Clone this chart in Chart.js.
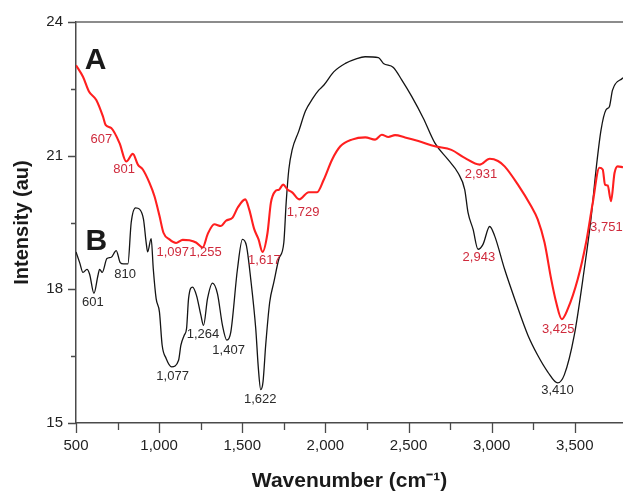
<!DOCTYPE html>
<html>
<head>
<meta charset="utf-8">
<script src="https://cdn.jsdelivr.net/npm/chart.js@4.4.1/dist/chart.umd.min.js"></script>
<style>
  html, body { margin: 0; padding: 0; background: #fff; }
  #wrap { width: 623px; height: 491px; }
</style>
</head>
<body>
<div id="wrap"><canvas id="chart"></canvas></div>
<script>
// ---- spectrum A (red) ----
const waveA = [500, 542, 578, 622, 662, 678, 712, 762, 802, 842, 872, 902, 942, 972, 1002, 1026, 1062, 1102, 1142, 1182,
  1222, 1262, 1292, 1332, 1372, 1402, 1442, 1472, 1518, 1542, 1572, 1598, 1622, 1652, 1672, 1698, 1722, 1746, 1772, 1802,
  1842, 1900, 1950, 1990, 2040, 2090, 2159, 2240, 2299, 2339, 2379, 2419, 2479, 2559, 2659, 2758, 2838, 2928, 2988, 3038,
  3078, 3158, 3237, 3277, 3318, 3358, 3388, 3422, 3458, 3518, 3568, 3608, 3648, 3668, 3682, 3698, 3718, 3739, 3758, 3790];
const intenA = [23.03, 22.77, 22.44, 22.25, 21.88, 21.69, 21.62, 21.28, 20.87, 21.04, 20.80, 20.69, 20.39, 20.09, 19.65, 19.27, 19.12, 19.04, 19.11, 19.10,
  19.05, 18.94, 19.24, 19.46, 19.42, 19.54, 19.61, 19.83, 20.02, 19.79, 19.35, 19.12, 18.84, 19.27, 19.94, 20.20, 20.24, 20.35, 20.24, 20.17,
  20.02, 20.18, 20.18, 20.46, 20.91, 21.21, 21.36, 21.41, 21.36, 21.47, 21.42, 21.46, 21.41, 21.33, 21.21, 21.13, 20.95, 20.80, 20.93, 20.88,
  20.76, 20.35, 19.87, 19.57, 19.05, 18.23, 17.71, 17.33, 17.56, 18.23, 19.05, 19.94, 20.73, 20.69, 20.35, 20.33, 19.98, 20.61, 20.76, 20.74];

// ---- spectrum B (black) ----
const waveB = [500, 522, 542, 566, 582, 608, 632, 642, 658, 686, 712, 742, 766, 786, 812, 832, 858, 882, 906, 922,
  931, 952, 965, 982, 1002, 1018, 1042, 1075, 1117, 1131, 1151, 1165, 1177, 1201, 1225, 1251, 1267, 1291, 1321, 1351,
  1381, 1407, 1431, 1471, 1501, 1525, 1551, 1581, 1597, 1611, 1625, 1641, 1665, 1690, 1720, 1750, 1764, 1780, 1800, 1840,
  1880, 1925, 1960, 1990, 2050, 2120, 2189, 2239, 2319, 2349, 2409, 2459, 2519, 2589, 2659, 2738, 2798, 2838, 2858, 2888,
  2918, 2948, 2988, 3018, 3078, 3138, 3218, 3277, 3337, 3397, 3437, 3497, 3557, 3597, 3628, 3658, 3688, 3708, 3727, 3790];
const intenB = [18.84, 18.60, 18.38, 18.45, 18.34, 17.91, 18.31, 18.45, 18.38, 18.69, 18.72, 18.87, 18.60, 18.57, 18.57, 19.50, 19.83, 19.80, 19.57, 19.05,
  18.84, 19.14, 18.45, 17.79, 17.49, 16.75, 16.45, 16.26, 16.41, 16.75, 16.97, 17.12, 17.79, 18.05, 17.86, 17.42, 17.19, 17.79, 18.14, 17.90,
  17.19, 16.86, 17.04, 18.45, 19.12, 18.98, 18.23, 17.12, 16.22, 15.75, 15.93, 16.75, 17.71, 18.16, 18.68, 19.05, 19.94, 20.69, 21.13, 21.55,
  22.00, 22.29, 22.47, 22.58, 22.88, 23.07, 23.18, 23.22, 23.20, 23.07, 22.98, 22.70, 22.33, 21.84, 21.28, 20.91, 20.61, 20.24, 19.72, 19.35,
  18.90, 19.01, 19.41, 19.20, 18.45, 17.79, 16.97, 16.52, 16.15, 15.90, 16.08, 16.97, 18.45, 19.57, 20.69, 21.58, 22.03, 22.10, 22.47, 22.75];

// ---- peak labels (text, wavenumber, intensity where the label sits) ----
const peakTextA = ["607", "801", "1,097", "1,255", "1,617", "1,729", "2,931", "2,943", "3,425", "3,751"];
const peakXA    = [652, 790, 1082, 1279, 1633, 1866, 2936, 2923, 3400, 3690];
const peakYA    = [21.36, 20.69, 18.83, 18.83, 18.65, 19.72, 20.59, 18.72, 17.11, 19.40];

const peakTextB = ["601", "810", "1,077", "1,264", "1,407", "1,622", "3,410"];
const peakXB    = [602, 795, 1081, 1264, 1418, 1608, 3396];
const peakYB    = [17.71, 18.34, 16.05, 16.98, 16.63, 15.53, 15.74];

// series letters
const seriesNames = ["A", "B"];
const seriesNameX = [618, 622];
const seriesNameY = [23.16, 19.08];

// axes
const xMin = 500, xMax = 3790;
const yMin = 15, yMax = 24;
const xMajor = [500, 1000, 1500, 2000, 2500, 3000, 3500];
const xMinor = [750, 1250, 1750, 2250, 2750, 3250];
const yMajor = [15, 18, 21, 24];
const yMinor = [16.5, 19.5, 22.5];

const FONT = "'Liberation Sans', Arial, Helvetica, sans-serif";
const AXIS_COLOR = "#4a4a4a";

const toPoints = (xs, ys) => xs.map((x, i) => ({ x: x, y: ys[i] }));

// tick marks, top frame line, peak labels
const decorPlugin = {
  id: "decor",
  afterDatasetsDraw(chart) {
    const ctx = chart.ctx;
    const xs = chart.scales.x;
    const ys = chart.scales.y;
    const area = chart.chartArea;

    ctx.save();
    ctx.strokeStyle = AXIS_COLOR;
    ctx.lineWidth = 1.3;
    ctx.beginPath();
    xMajor.forEach(v => {
      const px = Math.round(xs.getPixelForValue(v)) + 0.5;
      ctx.moveTo(px, area.bottom); ctx.lineTo(px, area.bottom + 10);
    });
    xMinor.forEach(v => {
      const px = Math.round(xs.getPixelForValue(v)) + 0.5;
      ctx.moveTo(px, area.bottom); ctx.lineTo(px, area.bottom + 7);
    });
    yMajor.forEach(v => {
      const py = Math.round(ys.getPixelForValue(v)) + 0.5;
      ctx.moveTo(area.left, py); ctx.lineTo(area.left - 8, py);
    });
    yMinor.forEach(v => {
      const py = Math.round(ys.getPixelForValue(v)) + 0.5;
      ctx.moveTo(area.left, py); ctx.lineTo(area.left - 5, py);
    });
    ctx.stroke();

    // top frame line
    ctx.strokeStyle = "#666";
    ctx.lineWidth = 1.6;
    ctx.beginPath();
    ctx.moveTo(area.left, area.top);
    ctx.lineTo(area.right, area.top);
    ctx.stroke();

    // peak labels
    ctx.textAlign = "center";
    ctx.textBaseline = "middle";
    ctx.font = "13px " + FONT;
    ctx.fillStyle = "#cf2a3c";
    peakTextA.forEach((t, i) => {
      ctx.fillText(t, xs.getPixelForValue(peakXA[i]), ys.getPixelForValue(peakYA[i]));
    });
    ctx.fillStyle = "#2a2a2a";
    peakTextB.forEach((t, i) => {
      ctx.fillText(t, xs.getPixelForValue(peakXB[i]), ys.getPixelForValue(peakYB[i]));
    });

    // series letters
    ctx.font = "bold 30px " + FONT;
    ctx.fillStyle = "#1a1a1a";
    seriesNames.forEach((t, i) => {
      ctx.fillText(t, xs.getPixelForValue(seriesNameX[i]), ys.getPixelForValue(seriesNameY[i]) + 1);
    });
    ctx.restore();
  }
};

new Chart(document.getElementById("chart"), {
  type: "line",
  data: {
    datasets: [
      {
        label: "A",
        data: toPoints(waveA, intenA),
        borderColor: "#ff1f1f",
        borderWidth: 2.1,
        pointRadius: 0,
        cubicInterpolationMode: "monotone"
      },
      {
        label: "B",
        data: toPoints(waveB, intenB),
        borderColor: "#141414",
        borderWidth: 1.3,
        pointRadius: 0,
        cubicInterpolationMode: "monotone"
      }
    ]
  },
  options: {
    responsive: true,
    maintainAspectRatio: false,
    animation: false,
    layout: { padding: { top: 18, right: 0, left: 0, bottom: 0 } },
    plugins: {
      legend: { display: false },
      tooltip: { enabled: false }
    },
    scales: {
      x: {
        type: "linear",
        min: xMin,
        max: xMax,
        grid: { display: false, drawTicks: false },
        border: { display: true, color: AXIS_COLOR, width: 1.5 },
        afterBuildTicks: s => { s.ticks = xMajor.map(v => ({ value: v })); },
        ticks: {
          padding: 14,
          color: "#222",
          font: { family: FONT, size: 15 },
          maxRotation: 0,
          autoSkip: false,
          callback: v => v.toLocaleString("en-US")
        },
        title: {
          display: true,
          text: "Wavenumber (cm\u207B\u00B9)",
          color: "#1a1a1a",
          font: { family: FONT, size: 21, weight: "bold" },
          padding: { top: 0, bottom: -3 }
        },
        afterFit: s => { s.height = 68; }
      },
      y: {
        min: yMin,
        max: yMax,
        grid: { display: false, drawTicks: false },
        border: { display: true, color: AXIS_COLOR, width: 1.5 },
        afterBuildTicks: s => { s.ticks = yMajor.map(v => ({ value: v })); },
        ticks: {
          padding: 13,
          color: "#222",
          font: { family: FONT, size: 15 }
        },
        title: {
          display: true,
          text: "Intensity (au)",
          color: "#1a1a1a",
          font: { family: FONT, size: 20, weight: "bold" },
          padding: { top: 10, bottom: 0 }
        },
        afterFit: s => { s.width = 76; }
      }
    }
  },
  plugins: [decorPlugin]
});
</script>
</body>
</html>
